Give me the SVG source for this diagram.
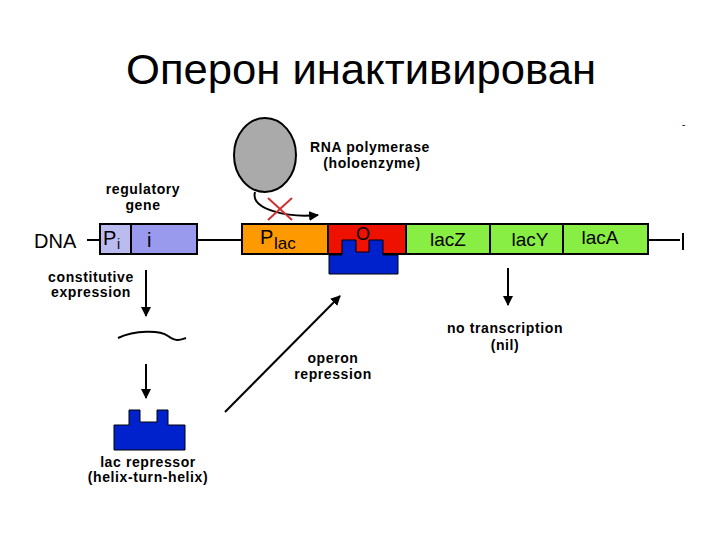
<svg xmlns="http://www.w3.org/2000/svg" width="720" height="540" viewBox="0 0 720 540">
<defs>
<style>
.t{font-family:"Liberation Sans",Arial,sans-serif;fill:#000}
.s{font-size:14px;font-weight:bold;text-anchor:middle;letter-spacing:0.6px}
.b{stroke:#000;stroke-width:2}
.ln{stroke:#000;stroke-width:2;fill:none}
</style>
<marker id="ah" viewBox="0 0 10 10" refX="9" refY="5" markerWidth="5" markerHeight="5" orient="auto"><path d="M0,0 L10,5 L0,10 Z" fill="#000"/></marker>
</defs>
<rect width="720" height="540" fill="#fff"/>
<text class="t" x="361" y="84" font-size="42" text-anchor="middle" textLength="470" lengthAdjust="spacingAndGlyphs">Оперон инактивирован</text>
<text class="t" x="682" y="128" font-size="10">-</text>
<g id="connectors">
<line class="ln" x1="87" y1="240" x2="100" y2="240"/>
<line class="ln" x1="197" y1="240" x2="243" y2="240"/>
<line class="ln" x1="648" y1="240" x2="680" y2="240"/>
<line class="ln" x1="683" y1="233" x2="683" y2="250"/>
<path class="ln" d="M255,192 C250,210 290,218 318,215" marker-end="url(#ah)"/>
<line x1="268" y1="198" x2="292" y2="220" stroke="#c33" stroke-width="2"/>
<line x1="292" y1="198" x2="268" y2="220" stroke="#c33" stroke-width="2"/>
<line class="ln" x1="146" y1="270" x2="146" y2="316" marker-end="url(#ah)"/>
<path class="ln" d="M118,338 C135,330 160,330 168,336 S180,340 186,338"/>
<line class="ln" x1="146" y1="364" x2="146" y2="398" marker-end="url(#ah)"/>
<line class="ln" x1="225" y1="412" x2="340" y2="296" marker-end="url(#ah)"/>
<line class="ln" x1="508" y1="268" x2="508" y2="305" marker-end="url(#ah)"/>
</g>
<g id="polymerase">
<ellipse cx="265" cy="155" rx="31" ry="37" fill="#aaa" stroke="#000" stroke-width="2"/>
<text class="t s" x="370" y="152">RNA polymerase</text>
<text class="t s" x="372" y="168">(holoenzyme)</text>
</g>
<g id="regulatory">
<text class="t s" x="143" y="194">regulatory</text>
<text class="t s" x="143" y="210">gene</text>
<text class="t" x="34" y="248" font-size="20">DNA</text>
<rect class="b" x="100" y="224" width="31" height="30" fill="#bbbbf0"/>
<rect class="b" x="131" y="224" width="66" height="30" fill="#9999ee"/>
<text class="t" x="103" y="245" font-size="20">P</text>
<text class="t" x="117" y="249" font-size="14">i</text>
<text class="t" x="147" y="247" font-size="20">i</text>
</g>
<g id="operon">
<rect class="b" x="242" y="224" width="86" height="30" fill="#ff9900"/>
<text class="t" x="260" y="244" font-size="20">P</text>
<text class="t" x="274" y="249" font-size="17">lac</text>
<rect class="b" x="328" y="224" width="78" height="30" fill="#ee1100"/>
<text class="t" x="356" y="240" font-size="18">O</text>
<rect class="b" x="406" y="224" width="84" height="30" fill="#88ee44"/>
<text class="t" x="448" y="246" font-size="19" text-anchor="middle">lacZ</text>
<rect class="b" x="490" y="224" width="73" height="30" fill="#88ee44"/>
<text class="t" x="530" y="246" font-size="19" text-anchor="middle">lacY</text>
<rect class="b" x="563" y="224" width="85" height="30" fill="#88ee44"/>
<text class="t" x="600" y="244" font-size="19" text-anchor="middle">lacA</text>
</g>
<g id="bound-repressor">
<path d="M329,274 V255 H342 V240 H356 V252 H369 V240 H383 V255 H398 V274 Z" fill="#0022cc" stroke="#000" stroke-width="1"/>
</g>
<g id="constitutive">
<text class="t s" x="91" y="282">constitutive</text>
<text class="t s" x="91" y="297">expression</text>
</g>
<g id="repressor">
<path d="M114,450 V425 H129 V410 H140 V422 H157 V410 H168 V425 H185 V450 Z" fill="#0022cc" stroke="#000" stroke-width="1"/>
<text class="t s" x="148" y="467">lac repressor</text>
<text class="t s" x="148" y="482">(helix-turn-helix)</text>
</g>
<g id="repression">
<text class="t s" x="333" y="363">operon</text>
<text class="t s" x="333" y="379">repression</text>
</g>
<g id="notranscription">
<text class="t s" x="505" y="333">no transcription</text>
<text class="t s" x="505" y="350">(nil)</text>
</g>
</svg>
